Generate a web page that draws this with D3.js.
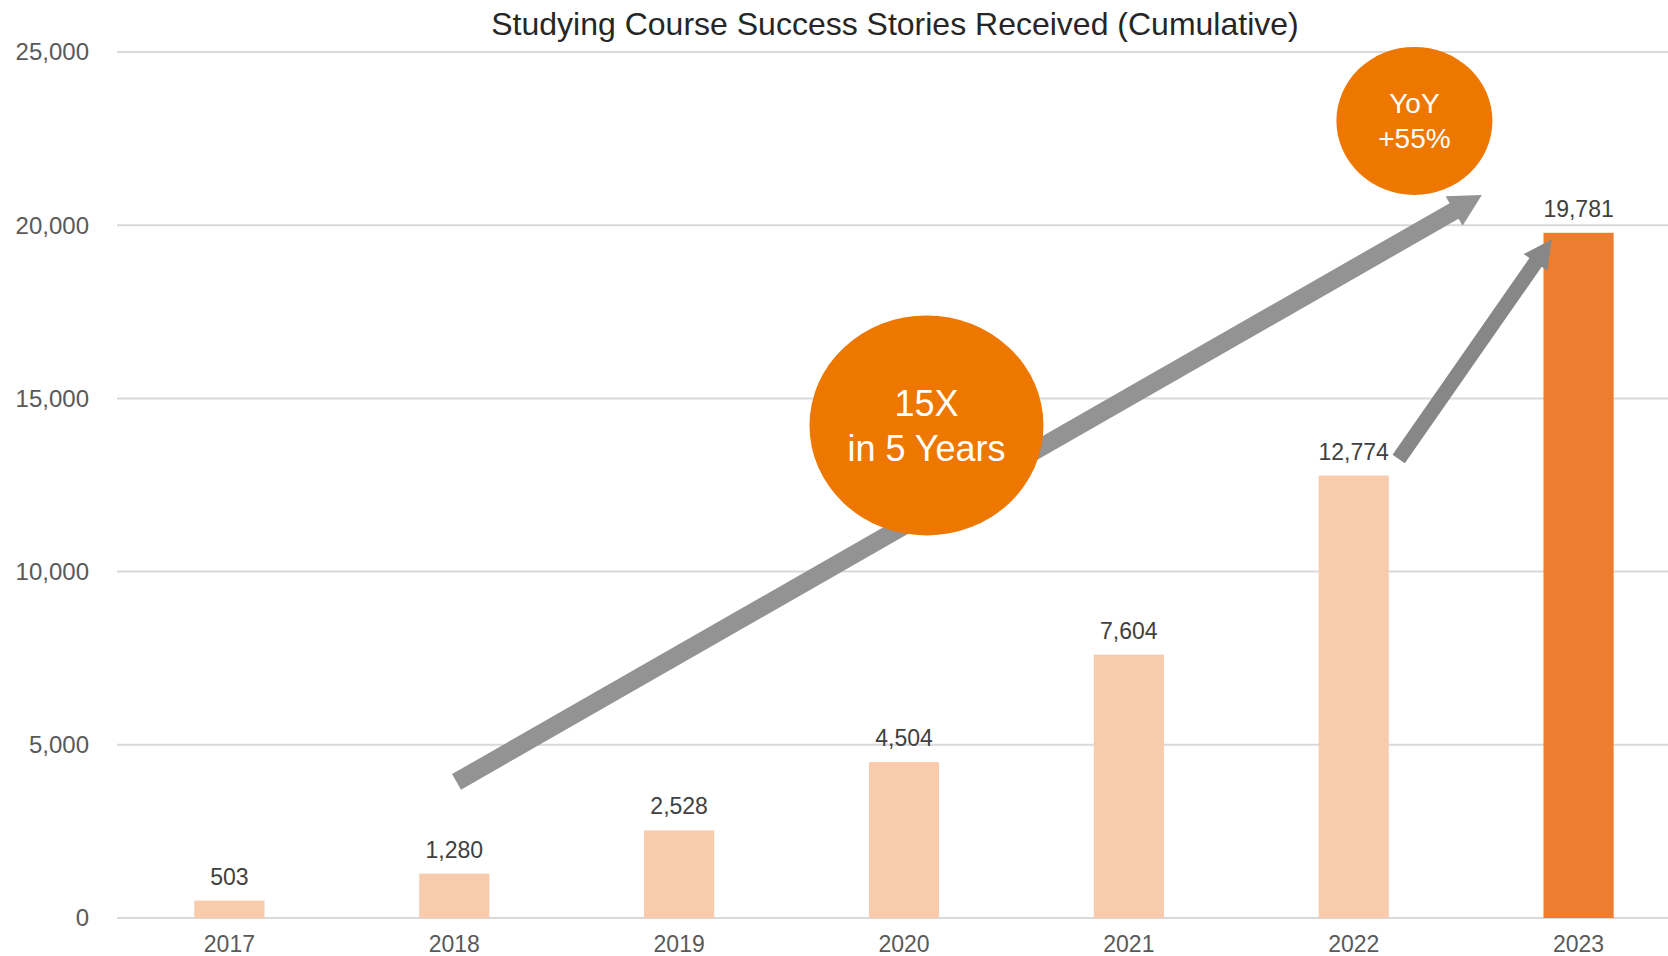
<!DOCTYPE html>
<html>
<head>
<meta charset="utf-8">
<script src="https://cdn.jsdelivr.net/npm/d3@7"></script>
<style>
  body { margin: 0; background: #fff; }
  svg { display: block; font-family: "Liberation Sans", Arial, sans-serif; }
</style>
</head>
<body>
<svg id="svg" width="1668" height="956"></svg>
<script>
// chart data
const years = ["2017", "2018", "2019", "2020", "2021", "2022", "2023"];
const stories = [503, 1280, 2528, 4504, 7604, 12774, 19781];
const yTicks = [0, 5000, 10000, 15000, 20000, 25000];
const title = "Studying Course Success Stories Received (Cumulative)";

// annotations, in data units (x = fractional year index, y = value)
const arrows = [
  { from: [1.01, 3930], to: [5.57, 20870], shaft: 18, head: 34, headLen: 32, color: "#939393" },
  { from: [5.2, 13250], to: [5.88, 19590], shaft: 15, head: 29, headLen: 28, color: "#878787" }
];
const bubbles = [
  { at: [3.1, 14220], rx: 117, ry: 110, lines: ["15X", "in 5 Years"], size: 36, gap: 45 },
  { at: [5.27, 23010], rx: 78, ry: 74, lines: ["YoY", "+55%"], size: 28, gap: 35 }
];

const svg = d3.select("#svg");
const width = 1668, height = 956;
const margin = { left: 117, right: -23, top: 52, bottom: 38 };

const x = d3.scaleBand()
    .domain(years)
    .range([margin.left, width - margin.right])
    .paddingInner(0.688)
    .paddingOuter(0.344);

// fractional index -> pixel (centre of band)
const xi = i => x(years[0]) + x.bandwidth() / 2 + i * x.step();

const y = d3.scaleLinear()
    .domain([0, 25000])
    .range([height - margin.bottom, margin.top]);

const fmt = d3.format(",");

// gridlines
svg.append("g")
  .selectAll("line")
  .data(yTicks)
  .join("line")
    .attr("x1", margin.left)
    .attr("x2", width)
    .attr("y1", d => y(d))
    .attr("y2", d => y(d))
    .attr("stroke", "#d9d9d9")
    .attr("stroke-width", 2);

// y tick labels
svg.append("g")
  .selectAll("text")
  .data(yTicks)
  .join("text")
    .attr("x", 89)
    .attr("y", d => y(d))
    .attr("dy", "0.35em")
    .attr("text-anchor", "end")
    .attr("font-size", 24)
    .attr("fill", "#595959")
    .text(fmt);

// x labels
svg.append("g")
  .selectAll("text")
  .data(years)
  .join("text")
    .attr("x", d => x(d) + x.bandwidth() / 2)
    .attr("y", 944)
    .attr("dy", "0.35em")
    .attr("text-anchor", "middle")
    .attr("font-size", 23)
    .attr("fill", "#595959")
    .text(d => d);

// bars
svg.append("g")
  .selectAll("rect")
  .data(stories)
  .join("rect")
    .attr("x", (d, i) => x(years[i]))
    .attr("width", x.bandwidth())
    .attr("y", d => y(d))
    .attr("height", d => y(0) - y(d))
    .attr("fill", (d, i) => i === years.length - 1 ? "#ed7d31" : "#f8cbad");

// value labels
svg.append("g")
  .selectAll("text")
  .data(stories)
  .join("text")
    .attr("x", (d, i) => x(years[i]) + x.bandwidth() / 2)
    .attr("y", d => y(d) - 24)
    .attr("dy", "0.35em")
    .attr("text-anchor", "middle")
    .attr("font-size", 23)
    .attr("fill", "#404040")
    .text(fmt);

// block arrow polygon from tail to tip
function arrowPath(a) {
  const x0 = xi(a.from[0]), y0 = y(a.from[1]);
  const x1 = xi(a.to[0]), y1 = y(a.to[1]);
  const len = Math.hypot(x1 - x0, y1 - y0);
  const ux = (x1 - x0) / len, uy = (y1 - y0) / len;
  const nx = -uy, ny = ux;
  const bx = x1 - ux * a.headLen, by = y1 - uy * a.headLen;
  const s = a.shaft / 2, h = a.head / 2;
  const pts = [
    [x0 + nx * s, y0 + ny * s],
    [bx + nx * s, by + ny * s],
    [bx + nx * h, by + ny * h],
    [x1, y1],
    [bx - nx * h, by - ny * h],
    [bx - nx * s, by - ny * s],
    [x0 - nx * s, y0 - ny * s]
  ];
  return "M" + pts.map(p => p.join(",")).join("L") + "Z";
}

svg.append("g")
  .selectAll("path")
  .data(arrows)
  .join("path")
    .attr("d", arrowPath)
    .attr("fill", d => d.color);

// bubbles
const bub = svg.append("g")
  .selectAll("g")
  .data(bubbles)
  .join("g")
    .attr("transform", d => `translate(${xi(d.at[0])},${y(d.at[1])})`);

bub.append("ellipse")
    .attr("rx", d => d.rx)
    .attr("ry", d => d.ry)
    .attr("fill", "#ee7700");

bub.each(function(d) {
  d3.select(this).selectAll("text")
    .data(d.lines)
    .join("text")
      .attr("y", (t, i) => (i - (d.lines.length - 1) / 2) * d.gap)
      .attr("dy", "0.35em")
      .attr("text-anchor", "middle")
      .attr("font-size", d.size)
      .attr("fill", "#fff")
      .text(t => t);
});

// title
svg.append("text")
    .attr("x", 895)
    .attr("y", 24)
    .attr("dy", "0.35em")
    .attr("text-anchor", "middle")
    .attr("font-size", 32)
    .attr("fill", "#262626")
    .text(title);
</script>
</body>
</html>
